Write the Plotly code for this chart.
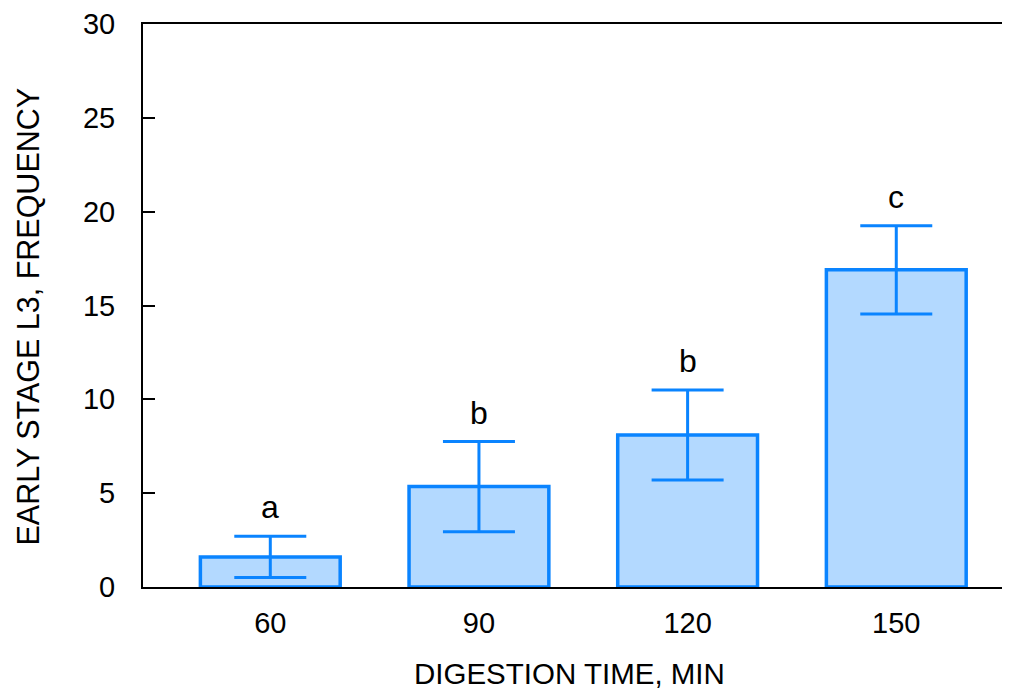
import plotly.graph_objects as go

categories = ["60", "90", "120", "150"]
means = [1.6, 5.35, 8.1, 16.9]
errors = [1.1, 2.4, 2.4, 2.35]
letters = ["a", "b", "b", "c"]
y_ticks = [0, 5, 10, 15, 20, 25, 30]
x_title = "DIGESTION TIME, MIN"
y_title = "EARLY STAGE L3, FREQUENCY"

FONT = "Liberation Sans, Arial, sans-serif"

fig = go.Figure()
fig.add_trace(go.Bar(
    x=list(range(len(categories))),
    y=means,
    width=0.67,
    marker=dict(color="#B3D9FF", line=dict(color="#0A84FF", width=3.5)),
    error_y=dict(type="data", array=errors, visible=True, color="#0A84FF", thickness=3, width=36),
    showlegend=False,
))

for i, (m, e, l) in enumerate(zip(means, errors, letters)):
    fig.add_annotation(x=i, y=m + e, text=l, showarrow=False, yanchor="bottom", yshift=9,
                       font=dict(size=32, color="black", family=FONT))

# axis titles as annotations for precise placement
fig.add_annotation(xref="paper", yref="paper", x=0.5, y=0, xshift=-7, yshift=-86,
                   text=x_title, showarrow=False, xanchor="center", yanchor="middle",
                   font=dict(size=29.5, color="black", family=FONT))
fig.add_annotation(xref="paper", yref="paper", x=0, y=0.5, xshift=-116, yshift=-11,
                   text=y_title, showarrow=False, textangle=-90, xanchor="center", yanchor="middle",
                   font=dict(size=30.5, color="black", family=FONT))

# page body has an 8px margin: compensate so the plot sits where the reference has it
fig.update_layout(
    width=1002, height=684,
    margin=dict(l=135, r=0, t=16, b=105),
    plot_bgcolor="white", paper_bgcolor="white",
    font=dict(family=FONT, color="black", size=28),
)
fig.update_xaxes(
    range=[-0.61, 3.545],
    tickvals=list(range(len(categories))), ticktext=categories,
    showline=True, linecolor="black", linewidth=2, mirror=True,
    ticks="", showgrid=False, zeroline=False,
    ticklabelstandoff=9,
    tickfont=dict(size=29),
)
fig.update_yaxes(
    range=[0, 30], tickvals=y_ticks,
    showline=True, linecolor="black", linewidth=2,
    ticks="inside", ticklen=12, tickwidth=2, tickcolor="black",
    showgrid=False, zeroline=False,
    ticklabelstandoff=20,
    tickfont=dict(size=29),
)

fig.write_html("out.html")
